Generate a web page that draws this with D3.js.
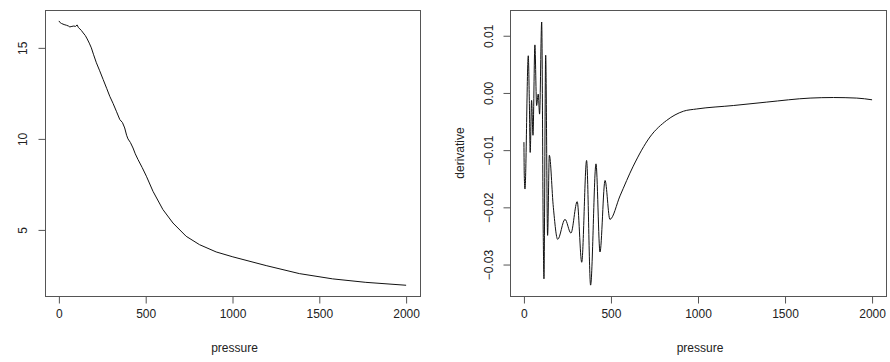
<!DOCTYPE html>
<html>
<head>
<meta charset="utf-8">
<script src="https://cdn.jsdelivr.net/npm/d3@7"></script>
<style>
  body { margin: 0; background: #fff; }
  text { font-family: "Liberation Sans", Arial, sans-serif; fill: #222; }
</style>
</head>
<body>
<svg id="chart" width="890" height="362"></svg>
<script>
// left panel: raw curve
var pressureA = [0, 8, 15, 30, 44, 55, 63, 75, 86, 96, 105, 112, 121, 130, 140, 152, 163, 175, 187, 200, 216, 235, 255, 275, 293, 312, 331, 351, 366, 379, 390, 398, 412, 427, 440, 456, 480, 504,
  542, 599, 657, 733, 810, 906, 1002, 1194, 1385, 1577, 1768, 2000];
var valueA = [16.48, 16.38, 16.34, 16.28, 16.24, 16.2, 16.15, 16.18, 16.2, 16.18, 16.26, 16.12, 16.04, 15.95, 15.82, 15.68, 15.49, 15.26, 15.0, 14.62, 14.18, 13.74, 13.26, 12.78, 12.34, 11.95, 11.52, 11.06, 10.9, 10.6, 10.2, 10.0, 9.8, 9.5, 9.18, 8.86, 8.42, 7.95,
  7.12, 6.12, 5.38, 4.65, 4.19, 3.79, 3.52, 3.04, 2.6, 2.31, 2.12, 1.96];

// right panel: derivative
var pressureB = [0, 2, 6, 25, 31, 36, 44, 52, 63, 73, 82, 90, 102, 111, 115, 125, 136, 146, 169, 194, 236, 270, 306, 332, 360, 383, 414, 437, 466, 494,
  552, 628, 724, 820, 916, 993, 1203, 1395, 1644, 1778, 1912, 2000];
var valueB = [-0.0086, -0.0144, -0.0168, 0.0065, -0.0013, -0.0104, -0.0013, -0.0074, 0.0084, -0.0022, -0.0002, -0.0037, 0.0124, -0.0246, -0.0325, 0.0066, -0.0249, -0.0109, -0.0200, -0.0256, -0.0221, -0.0245, -0.0190, -0.0296, -0.0118, -0.0336, -0.0124, -0.0278, -0.0153, -0.0221,
  -0.0180, -0.0128, -0.0077, -0.0048, -0.0032, -0.0028, -0.0022, -0.0016, -0.0009, -0.0008, -0.0009, -0.0012];

var xTicks = [0, 500, 1000, 1500, 2000];
var yTicksA = [5, 10, 15];
var yTicksB = [-0.03, -0.02, -0.01, 0.00, 0.01];

var svg = d3.select("#chart");

function panel(opt) {
  var g = svg.append("g");
  var x = d3.scaleLinear().domain([-80, 2080]).range([opt.left, opt.right]);
  var y = d3.scaleLinear().domain(opt.ydomain).range([opt.bottom, opt.top]);

  g.append("rect")
    .attr("x", opt.left + 0.5).attr("y", opt.top + 0.5)
    .attr("width", opt.right - opt.left).attr("height", opt.bottom - opt.top)
    .attr("fill", "none").attr("stroke", "#555");

  var xa = g.append("g")
    .attr("transform", "translate(0," + (opt.bottom + 0.5) + ")")
    .call(d3.axisBottom(x).tickValues(xTicks).tickFormat(d3.format("d"))
      .tickSizeOuter(0).tickSizeInner(7).tickPadding(6));
  xa.select(".domain")
    .attr("d", "M" + x(xTicks[0]) + ",0H" + x(xTicks[xTicks.length - 1]));

  var ya = g.append("g")
    .attr("transform", "translate(" + (opt.left + 0.5) + ",0)")
    .call(d3.axisLeft(y).tickValues(opt.yticks).tickFormat(opt.fmt).tickSizeOuter(0).tickSizeInner(7));
  ya.select(".domain")
    .attr("d", "M0," + y(opt.yticks[0]) + "V" + y(opt.yticks[opt.yticks.length - 1]));
  ya.selectAll(".tick text")
    .attr("x", null).attr("dy", null)
    .attr("text-anchor", "middle")
    .attr("transform", "translate(" + (opt.labelX - opt.left) + ",0) rotate(-90)");

  g.selectAll(".domain, .tick line").attr("stroke", "#555");
  g.selectAll(".tick text").style("font-size", "12px").attr("fill", "#222");

  g.append("text")
    .attr("x", (opt.left + opt.right) / 2 + 2).attr("y", 352)
    .attr("text-anchor", "middle").style("font-size", "12px")
    .text("pressure");

  if (opt.ylab) {
    g.append("text")
      .attr("transform", "translate(" + opt.ylabX + "," + opt.ylabY + ") rotate(-90)")
      .attr("text-anchor", "middle").style("font-size", "12px")
      .text(opt.ylab);
  }

  var line = d3.line()
    .x(function(d) { return x(d[0]); })
    .y(function(d) { return y(d[1]); })
    .curve(opt.curve);

  g.append("path")
    .datum(d3.zip(opt.px, opt.py))
    .attr("d", line)
    .attr("fill", "none")
    .attr("stroke", "#111")
    .attr("stroke-width", 1);
}

panel({
  left: 45, right: 420, top: 10, bottom: 296,
  ydomain: [1.37, 17.08], yticks: yTicksA, fmt: d3.format("d"),
  labelX: 26, px: pressureA, py: valueA, curve: d3.curveLinear
});

panel({
  left: 510, right: 886, top: 10, bottom: 296,
  ydomain: [-0.0355, 0.0145], yticks: yTicksB, fmt: d3.format(".2f"),
  labelX: 492, px: pressureB, py: valueB, curve: d3.curveMonotoneX,
  ylab: "derivative", ylabX: 464, ylabY: 153
});
</script>
</body>
</html>
